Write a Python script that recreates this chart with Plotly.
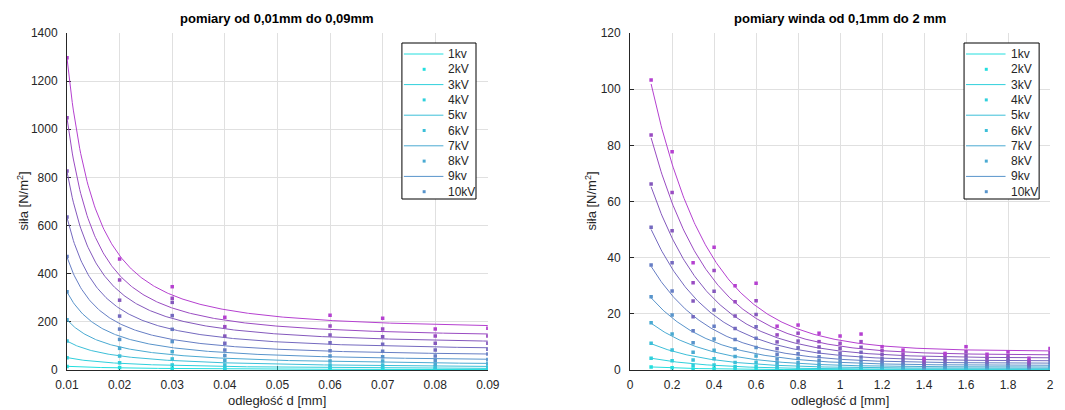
import numpy as np
import plotly.graph_objects as go

# ---------------- data ----------------
voltages = ["1kV", "2kV", "3kV", "4kV", "5kV", "6kV", "7kV", "8kV", "9kV", "10kV"]
legend_labels = ["1kv", "2kV", "3kV", "4kV", "5kv", "6kV", "7kV", "8kV", "9kv", "10kV"]

# left chart: distance 0.01 .. 0.09 mm
x_small = [0.01, 0.02, 0.03, 0.04, 0.06, 0.07, 0.08, 0.09]
small_1kV = [15, 10, 6, 3, 3, 3, 2, 2]
small_2kV = [51, 30, 21, 8, 11, 11, 7, 7]
small_3kV = [120, 58, 46, 21, 21, 21, 14, 17]
small_4kV = [209, 90, 76, 39, 37, 37, 24, 28]
small_5kV = [325, 127, 118, 60, 58, 55, 39, 44]
small_6kV = [471, 170, 169, 83, 80, 78, 58, 66]
small_7kV = [636, 224, 226, 111, 113, 107, 83, 86]
small_8kV = [827, 290, 281, 141, 145, 138, 111, 111]
small_9kV = [1048, 374, 298, 180, 183, 170, 141, 141]
small_10kV = [1297, 461, 346, 219, 227, 215, 170, 173]

# right chart: distance 0.1 .. 2 mm
x_winda = [0.1, 0.2, 0.3, 0.4, 0.5, 0.6, 0.7, 0.8, 0.9, 1.0,
           1.1, 1.2, 1.3, 1.4, 1.5, 1.6, 1.7, 1.8, 1.9, 2.0]
winda_1kV = [1.1, 0.8, 0.4, 0.45, 0.3, 0.3, 0.15, 0.16, 0.13, 0.12,
             0.13, 0.08, 0.07, 0.04, 0.06, 0.08, 0.06, 0.07, 0.04, 0.08]
winda_2kV = [4.2, 3.3, 1.6, 1.8, 1.2, 1.3, 0.6, 0.65, 0.5, 0.5,
             0.5, 0.35, 0.3, 0.2, 0.25, 0.3, 0.23, 0.26, 0.15, 0.3]
winda_3kV = [9.5, 7.1, 3.6, 4.0, 2.7, 2.8, 1.4, 1.5, 1.2, 1.1,
             1.2, 0.8, 0.6, 0.4, 0.6, 0.7, 0.5, 0.6, 0.35, 0.7]
winda_4kV = [16.8, 12.8, 6.3, 7.0, 4.8, 5.0, 2.5, 2.6, 2.1, 1.9,
             2.0, 1.4, 1.1, 0.7, 1.0, 1.3, 0.9, 1.0, 0.6, 1.2]
winda_5kV = [26.1, 19.6, 9.7, 11.0, 7.5, 8.0, 3.9, 4.1, 3.3, 3.0,
             3.2, 2.1, 1.8, 1.1, 1.6, 2.0, 1.4, 1.6, 1.0, 1.9]
winda_6kV = [37.4, 28.1, 14.0, 15.6, 10.9, 11.3, 5.6, 5.8, 4.7, 4.4,
             4.6, 3.0, 2.5, 1.5, 2.2, 2.9, 2.1, 2.4, 1.4, 2.8]
winda_7kV = [50.8, 38.2, 19.0, 21.4, 14.8, 15.4, 7.6, 7.9, 6.4, 5.9,
             6.3, 4.1, 3.4, 2.1, 3.1, 3.9, 2.8, 3.2, 1.9, 3.8]
winda_8kV = [66.2, 49.6, 24.6, 28.0, 19.2, 19.8, 10.0, 10.3, 8.2, 7.7,
             8.1, 5.5, 4.5, 2.8, 4.0, 5.1, 3.6, 4.2, 2.5, 5.0]
winda_9kV = [83.7, 63.2, 31.1, 35.4, 24.3, 24.7, 12.5, 13.1, 10.1, 9.5,
             10.1, 6.9, 5.7, 3.6, 5.2, 6.5, 4.5, 5.2, 3.2, 6.2]
winda_10kV = [103.3, 77.7, 38.2, 43.7, 30.0, 30.9, 15.6, 16.0, 13.1, 12.1,
              12.8, 8.3, 7.1, 4.2, 5.9, 8.3, 5.6, 6.5, 4.2, 7.7]

small_series = [small_1kV, small_2kV, small_3kV, small_4kV, small_5kV,
                small_6kV, small_7kV, small_8kV, small_9kV, small_10kV]
winda_series = [winda_1kV, winda_2kV, winda_3kV, winda_4kV, winda_5kV,
                winda_6kV, winda_7kV, winda_8kV, winda_9kV, winda_10kV]

colors = ["#22dede", "#2fd0dc", "#3cbfd8", "#4aaad2", "#5894cb",
          "#667ec4", "#7469bf", "#8458bc", "#9a4bc2", "#b540d0"]

# ---------------- fits ----------------
def power_fit(x, y, xs):
    x = np.asarray(x, float); y = np.asarray(y, float)
    best = None
    for b in np.linspace(-4.0, -0.1, 400):
        A = np.column_stack([x ** b, np.ones_like(x)])
        coef, *_ = np.linalg.lstsq(A, y, rcond=None)
        r = float(np.sum((A @ coef - y) ** 2))
        if best is None or r < best[0]:
            best = (r, b, coef)
    _, b, (a, c) = best
    return a * xs ** b + c

def exp_fit(x, y, xs):
    x = np.asarray(x, float); y = np.asarray(y, float)
    best = None
    for k in np.linspace(0.2, 15.0, 600):
        A = np.column_stack([np.exp(-k * x), np.ones_like(x)])
        coef, *_ = np.linalg.lstsq(A, y, rcond=None)
        r = float(np.sum((A @ coef - y) ** 2))
        if best is None or r < best[0]:
            best = (r, k, coef)
    _, k, (a, c) = best
    return a * np.exp(-k * xs) + c

xs_small = np.linspace(min(x_small), max(x_small), 400)
xs_winda = np.linspace(min(x_winda), max(x_winda), 400)

fig = go.Figure()
for i in range(10):
    fig.add_trace(go.Scatter(x=xs_small, y=power_fit(x_small, small_series[i], xs_small),
                             mode="lines", line=dict(color=colors[i], width=1),
                             xaxis="x", yaxis="y", showlegend=False, hoverinfo="skip"))
    fig.add_trace(go.Scatter(x=x_small, y=small_series[i], mode="markers",
                             marker=dict(symbol="square", size=3.5, color=colors[i]),
                             xaxis="x", yaxis="y", showlegend=False, name=voltages[i]))
for i in range(10):
    fig.add_trace(go.Scatter(x=xs_winda, y=exp_fit(x_winda, winda_series[i], xs_winda),
                             mode="lines", line=dict(color=colors[i], width=1),
                             xaxis="x2", yaxis="y2", showlegend=False, hoverinfo="skip"))
    fig.add_trace(go.Scatter(x=x_winda, y=winda_series[i], mode="markers",
                             marker=dict(symbol="square", size=3.5, color=colors[i]),
                             xaxis="x2", yaxis="y2", showlegend=False, name=voltages[i]))

# ---------------- layout ----------------
W, H = 1065, 410
L, R, T, B = 67, 3, 33, 40
pw, ph = W - L - R, H - T - B
def px(v): return (v - L) / pw
def py(v): return (H - B - v) / ph

TXT = "#262626"
FONT = "Liberation Sans, Arial, Helvetica, sans-serif"
GRID = "#e0e0e0"

axis_common = dict(showgrid=True, gridcolor=GRID, gridwidth=1, zeroline=False,
                   showline=True, linecolor=TXT, linewidth=1, ticks="inside",
                   ticklen=4, tickcolor=TXT, mirror=False, layer="below traces",
                   tickfont=dict(size=12, color=TXT, family=FONT), fixedrange=True)

left_dom = [0, px(493)]
right_dom = [px(637), 1]

fig.update_layout(
    width=W, height=H, margin=dict(l=L, r=R, t=T, b=B),
    paper_bgcolor="white", plot_bgcolor="white",
    font=dict(family=FONT, color=TXT, size=12),
    showlegend=False,
    xaxis=dict(domain=left_dom, range=[0.01, 0.09], tickvals=x_small[:4] + [0.05] + x_small[4:],
               tickformat=".2f", anchor="y", ticklabelstandoff=4, **axis_common),
    yaxis=dict(range=[0, 1400], dtick=200, anchor="x", ticklabelstandoff=6, **axis_common),
    xaxis2=dict(domain=right_dom, range=[0, 2], dtick=0.2, anchor="y2", ticklabelstandoff=4, **axis_common),
    yaxis2=dict(range=[0, 120], dtick=20, anchor="x2", ticklabelstandoff=6, **axis_common),
)

annotations = []
shapes = []
def ann(text, x, y, size=12, color=TXT, xanchor="center", angle=0):
    annotations.append(dict(text=text, x=px(x), y=py(y), xref="paper", yref="paper",
                            xanchor=xanchor, yanchor="middle", showarrow=False,
                            textangle=angle, font=dict(size=size, color=color)))

# titles
ann("<b>pomiary od 0,01mm do 0,09mm</b>", (67 + 493) / 2, 19, size=13, color="black")
ann("<b>pomiary winda od 0,1mm do 2 mm</b>", (637 + 1062) / 2, 19, size=13, color="black")
# axis titles
for cx in [(67 + 493) / 2, (637 + 1062) / 2]:
    ann("odległość d [mm]", cx, 400, size=13)
for cx in [22, 597]:
    ann("siła [N/m<sup>2</sup>]", cx, 201, size=13, angle=-90)

# custom legends (MATLAB style: labels mapped onto fit/data handles in order)
for bx0, bx1 in [(406, 481), (975, 1051)]:
    shapes.append(dict(type="rect", xref="paper", yref="paper", x0=px(bx0), x1=px(bx1),
                       y0=py(199), y1=py(43), line=dict(color="black", width=1),
                       fillcolor="white", layer="above"))
    for j, lab in enumerate(legend_labels):
        yc = 54 + 15.3 * j
        col = colors[j // 2]
        if j % 2 == 0:
            shapes.append(dict(type="line", xref="paper", yref="paper", x0=px(bx0 + 2), x1=px(bx0 + 42),
                               y0=py(yc), y1=py(yc), line=dict(color=col, width=1), layer="above"))
        else:
            shapes.append(dict(type="rect", xref="paper", yref="paper", x0=px(bx0 + 21), x1=px(bx0 + 24),
                               y0=py(yc + 1.5), y1=py(yc - 1.5), line=dict(width=0),
                               fillcolor=col, layer="above"))
        ann(lab, bx0 + 45, yc, size=12, xanchor="left")

fig.update_layout(annotations=annotations, shapes=shapes)
fig.write_html("out.html")
